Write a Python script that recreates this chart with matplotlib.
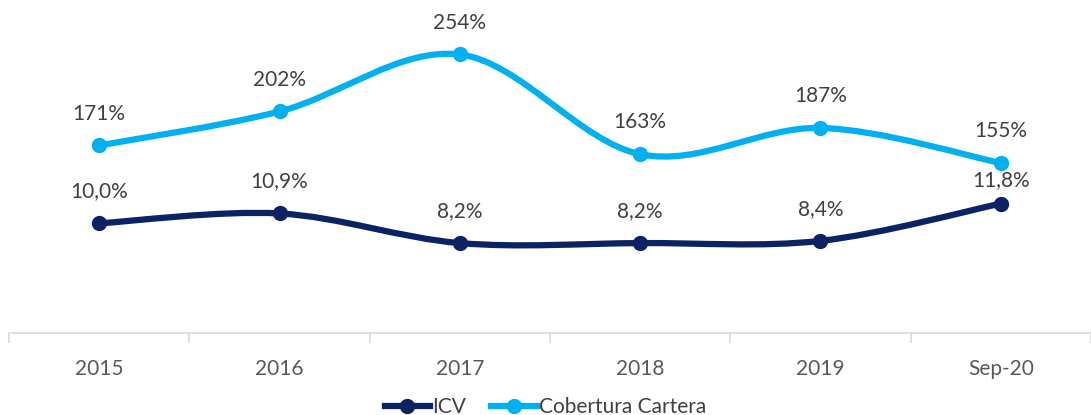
import numpy as np
import matplotlib.pyplot as plt
from matplotlib.path import Path
from matplotlib.patches import PathPatch
from matplotlib.lines import Line2D

plt.rcParams['font.family'] = ['Lato', 'DejaVu Sans']

categories = ["2015", "2016", "2017", "2018", "2019", "Sep-20"]
icv = [10.0, 10.9, 8.2, 8.2, 8.4, 11.8]
cobertura = [171, 202, 254, 163, 187, 155]
icv_labels = ["10,0%", "10,9%", "8,2%", "8,2%", "8,4%", "11,8%"]
cob_labels = ["171%", "202%", "254%", "163%", "187%", "155%"]

navy = "#0B2265"
cyan = "#00B0F0"
txt = "#404040"


def smooth_path(xs, ys):
    # bezier segments like excel "smoothed line"
    pts = np.column_stack([xs, ys]).astype(float)
    n = len(pts)
    verts = [pts[0]]
    codes = [Path.MOVETO]
    for i in range(n - 1):
        p0 = pts[i - 1] if i > 0 else pts[i]
        p1 = pts[i]
        p2 = pts[i + 1]
        p3 = pts[i + 2] if i + 2 < n else pts[i + 1]
        c1 = p1 + (p2 - p0) / 6.0
        c2 = p2 - (p3 - p1) / 6.0
        verts += [c1, c2, p2]
        codes += [Path.CURVE4] * 3
    return Path(verts, codes)


fig = plt.figure(figsize=(10.91, 4.15), dpi=100)
ax = fig.add_axes([9 / 1091, 82 / 415, 1 - 9 / 1091, 329 / 415])
ax2 = ax.twinx()

x = np.arange(len(categories))

ax.add_patch(PathPatch(smooth_path(x, cobertura), fill=False, edgecolor=cyan, lw=4.5, capstyle='round'))
ax.plot(x, cobertura, "o", color=cyan, ms=10)
ax2.add_patch(PathPatch(smooth_path(x, icv), fill=False, edgecolor=navy, lw=4.5, capstyle='round'))
ax2.plot(x, icv, "o", color=navy, ms=10)

for i in range(len(x)):
    ax.annotate(cob_labels[i], (x[i], cobertura[i]), xytext=(0, 23), textcoords="offset points",
                ha="center", va="center", fontsize=15, color=txt)
    off = 17 if i == 5 else 23
    ax2.annotate(icv_labels[i], (x[i], icv[i]), xytext=(0, off), textcoords="offset points",
                 ha="center", va="center", fontsize=15, color=txt)

ax.set_ylim(0, 300)
ax2.set_ylim(0, 30)
ax.set_xlim(-0.5, 5.5)

for a in (ax, ax2):
    for s in ["top", "left", "right"]:
        a.spines[s].set_visible(False)
    a.spines["bottom"].set_color("#D9D9D9")
    a.spines["bottom"].set_linewidth(1.2)
    a.set_yticks([])
ax2.spines["bottom"].set_visible(False)

ax.set_xticks(x)
ax.set_xticklabels(categories, fontsize=15, color="#595959")
ax.tick_params(axis="x", which="major", length=0, pad=19)
ax.set_xticks(np.arange(-0.5, 6, 1), minor=True)
ax.tick_params(axis="x", which="minor", length=7, color="#D9D9D9", width=1.2)

handles = [Line2D([], [], color=navy, lw=4.5, marker="o", ms=10),
           Line2D([], [], color=cyan, lw=4.5, marker="o", ms=10)]
fig.legend(handles, ["ICV", "Cobertura Cartera"], loc="lower center", bbox_to_anchor=(0.5, -0.05),
           ncol=2, frameon=False, fontsize=15, handlelength=2.2, handletextpad=0.1,
           columnspacing=1.2, labelcolor=txt)

fig.savefig("out.png", dpi=100)
